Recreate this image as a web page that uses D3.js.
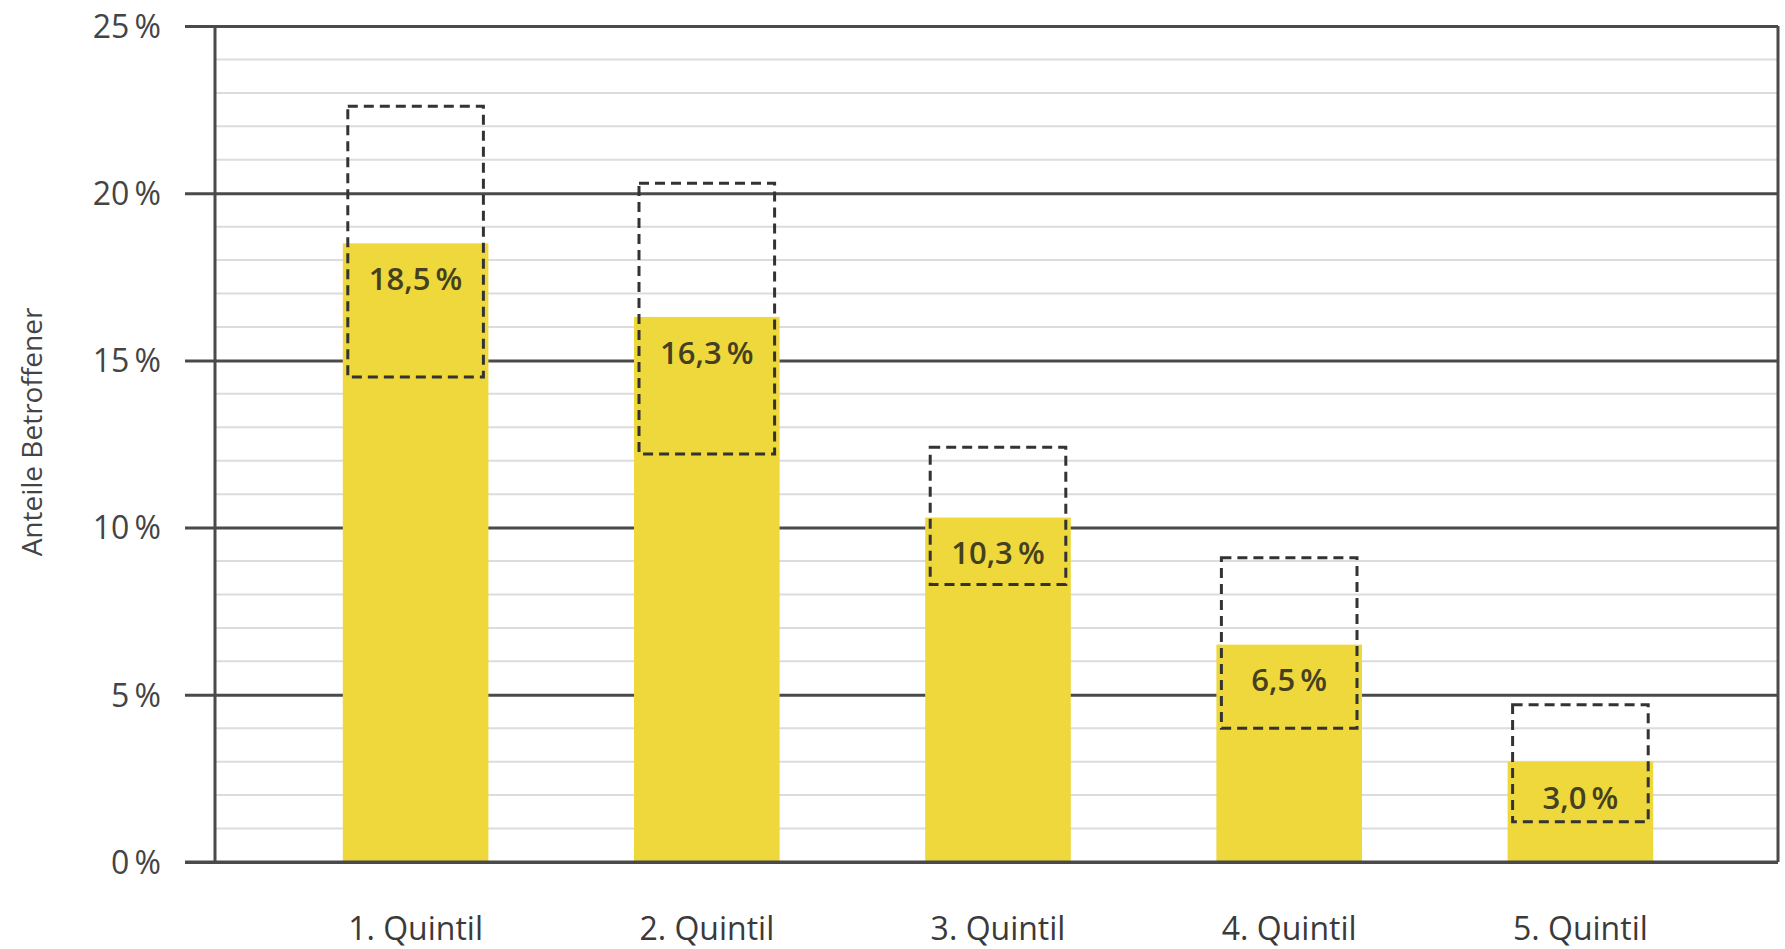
<!DOCTYPE html>
<html>
<head>
<meta charset="utf-8">
<script src="https://cdn.jsdelivr.net/npm/d3@7"></script>
<style>
  body { margin: 0; background: #fff; }
  svg text { font-family: "Open Sans", "Noto Sans", sans-serif; }
</style>
</head>
<body>
<svg id="chart" width="1785" height="949"></svg>
<script>
var categories = ["1. Quintil", "2. Quintil", "3. Quintil", "4. Quintil", "5. Quintil"];
var values = [18.5, 16.3, 10.3, 6.5, 3.0];
var ciLow = [14.5, 12.2, 8.3, 4.0, 1.2];
var ciHigh = [22.6, 20.3, 12.4, 9.1, 4.7];
var yTicks = [0, 5, 10, 15, 20, 25];
var yMinor = d3.range(0, 26, 1);

var margin = { top: 26, right: 7, bottom: 87, left: 215 };
var width = 1785, height = 949;

var de = d3.formatLocale({ decimal: ",", thousands: ".", grouping: [3], currency: ["", " €"] });
var fmt1 = de.format(".1f");
var thin = "\u2009";

var svg = d3.select("#chart");

var y = d3.scaleLinear().domain([0, 25]).range([height - margin.bottom, margin.top]);
var x = d3.scaleBand().domain(categories).range([270, 1726]).paddingInner(0.5).paddingOuter(0.25);

var plotRight = width - margin.right;

// minor grid
svg.append("g").selectAll("line")
  .data(yMinor.filter(function (d) { return d % 5 != 0; }))
  .enter().append("line")
  .attr("x1", margin.left).attr("x2", plotRight)
  .attr("y1", function (d) { return y(d); }).attr("y2", function (d) { return y(d); })
  .attr("stroke", "#dcdcdc").attr("stroke-width", 2);

// major grid via axis
var yAxis = d3.axisLeft(y).tickValues(yTicks)
  .tickSize(-(plotRight - margin.left))
  .tickFormat(function (d) { return d + thin + "%"; });

var gy = svg.append("g")
  .attr("transform", "translate(" + margin.left + ",0)")
  .call(yAxis);
gy.select(".domain").remove();
gy.selectAll(".tick line").attr("stroke", "#4a4a4a").attr("stroke-width", 3)
  .attr("x1", -30);
gy.selectAll(".tick text")
  .attr("x", -54)
  .attr("dy", "0.35em")
  .attr("fill", "#444")
  .style("font-size", "32px");

// bars
svg.append("g").selectAll("rect")
  .data(values)
  .enter().append("rect")
  .attr("x", function (d, i) { return x(categories[i]); })
  .attr("width", x.bandwidth())
  .attr("y", function (d) { return y(d); })
  .attr("height", function (d) { return y(0) - y(d); })
  .attr("fill", "#eed83c");

// frame: left, right, bottom
svg.append("line").attr("x1", margin.left).attr("x2", margin.left)
  .attr("y1", y(25)).attr("y2", y(0)).attr("stroke", "#4a4a4a").attr("stroke-width", 3);
svg.append("line").attr("x1", plotRight).attr("x2", plotRight)
  .attr("y1", y(25)).attr("y2", y(0)).attr("stroke", "#4a4a4a").attr("stroke-width", 3);
svg.append("line").attr("x1", margin.left - 30).attr("x2", plotRight)
  .attr("y1", y(0)).attr("y2", y(0)).attr("stroke", "#4a4a4a").attr("stroke-width", 3);

// dashed interval boxes
svg.append("g").selectAll("rect")
  .data(ciHigh)
  .enter().append("rect")
  .attr("x", function (d, i) { return x(categories[i]) + 5; })
  .attr("width", x.bandwidth() - 10)
  .attr("y", function (d) { return y(d); })
  .attr("height", function (d, i) { return y(ciLow[i]) - y(d); })
  .attr("fill", "none")
  .attr("stroke", "#333")
  .attr("stroke-width", 3)
  .attr("stroke-dasharray", "10,6");

// value labels
svg.append("g").selectAll("text")
  .data(values)
  .enter().append("text")
  .attr("x", function (d, i) { return x(categories[i]) + x.bandwidth() / 2; })
  .attr("y", function (d) { return y(d) + 36; })
  .attr("dy", "0.35em")
  .attr("text-anchor", "middle")
  .attr("fill", "#45401f")
  .style("font-size", "31px")
  .style("font-weight", 600)
  .text(function (d) { return fmt1(d) + thin + "%"; });

// x labels
var xAxis = d3.axisBottom(x).tickSize(0);
var gx = svg.append("g")
  .attr("transform", "translate(0," + y(0) + ")")
  .call(xAxis);
gx.select(".domain").remove();
gx.selectAll(".tick text")
  .attr("y", 78)
  .attr("dy", 0)
  .attr("fill", "#3a3a3a")
  .style("font-size", "32px")
  .style("font-weight", 500);

// y title
svg.append("text")
  .attr("transform", "translate(42," + 432 + ") rotate(-90)")
  .attr("text-anchor", "middle")
  .attr("fill", "#444")
  .style("font-size", "28px")
  .text("Anteile Betroffener");
</script>
</body>
</html>
